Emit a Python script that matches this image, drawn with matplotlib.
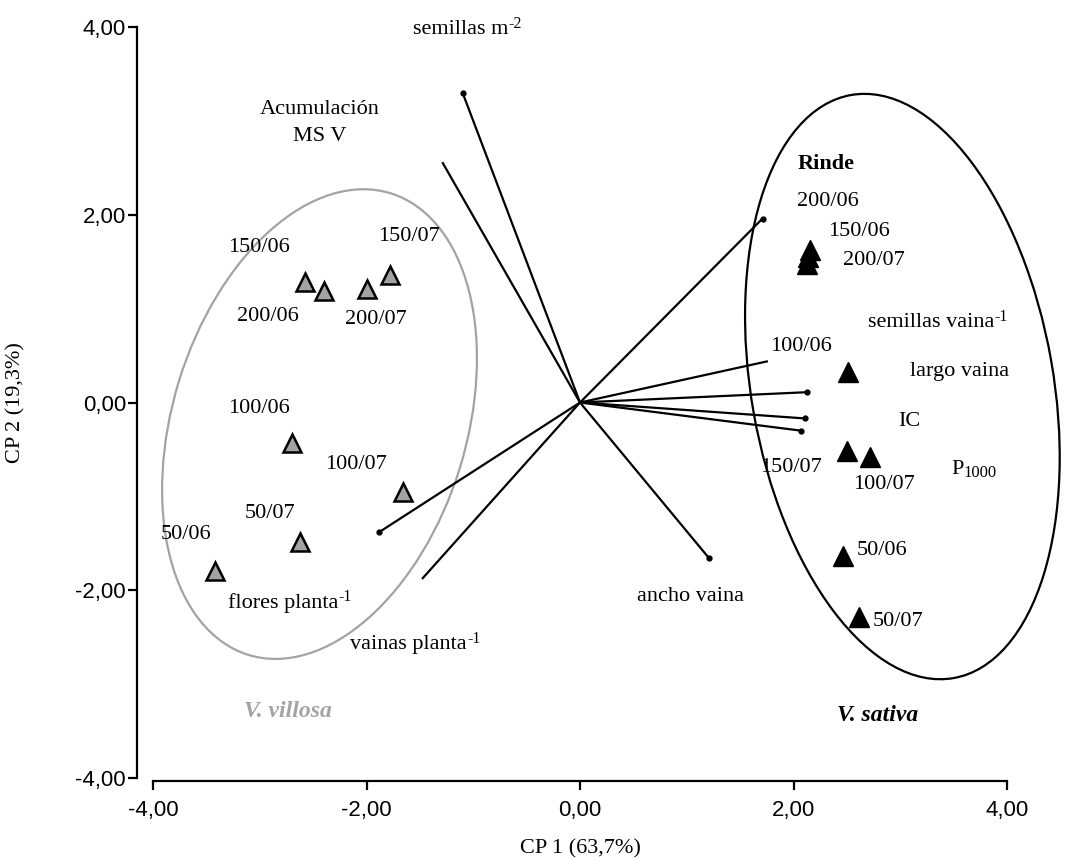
import matplotlib
matplotlib.use("Agg")
import matplotlib.pyplot as plt
import matplotlib.patches as mpatches
import matplotlib.transforms as mtransforms

# -----------------------------
# Data: PCA scores and loadings
# -----------------------------
villosa_names = ["150/06", "200/06", "200/07", "150/07", "100/06", "100/07", "50/07", "50/06"]
villosa_cp1 = [-2.58, -2.40, -2.00, -1.78, -2.70, -1.66, -2.62, -3.42]
villosa_cp2 = [1.28, 1.19, 1.21, 1.36, -0.43, -0.95, -1.49, -1.80]

sativa_names = ["200/06", "150/06", "200/07", "100/06", "150/07", "100/07", "50/06", "50/07"]
sativa_cp1 = [2.15, 2.14, 2.13, 2.51, 2.50, 2.72, 2.46, 2.61]
sativa_cp2 = [1.62, 1.55, 1.48, 0.33, -0.52, -0.58, -1.64, -2.28]

# variable name, superscript, subscript
variables = [("semillas m", "-2", None), ("Acumulación\nMS V", None, None),
             ("Rinde", None, None), ("semillas vaina", "-1", None),
             ("largo vaina", None, None), ("IC", None, None), ("P", None, "1000"),
             ("ancho vaina", None, None), ("flores planta", "-1", None),
             ("vainas planta", "-1", None)]
load_cp1 = [-1.10, -1.29, 1.71, 1.76, 2.13, 2.11, 2.07, 1.21, -1.88, -1.48]
load_cp2 = [3.30, 2.56, 1.96, 0.44, 0.11, -0.17, -0.30, -1.66, -1.38, -1.88]
load_dot = [True, False, True, False, True, True, True, True, True, False]

# label anchors (left edge, vertical centre)
villosa_lab = [(-3.30, 1.65), (-3.21, 0.92), (-2.20, 0.88), (-1.89, 1.77),
               (-3.30, -0.06), (-2.39, -0.66), (-3.14, -1.18), (-3.93, -1.41)]
sativa_lab = [(2.03, 2.14), (2.32, 1.82), (2.46, 1.51), (1.78, 0.60),
              (1.69, -0.69), (2.56, -0.87), (2.59, -1.58), (2.74, -2.33)]
var_lab = [(-1.56, 3.97), (-2.44, 2.98), (2.04, 2.54), (2.70, 0.85),
           (3.09, 0.33), (2.98, -0.20), (3.48, -0.71), (0.53, -2.07),
           (-3.30, -2.14), (-2.15, -2.58)]

GRAY = "#a3a3a3"
serif = ["Liberation Serif", "DejaVu Serif"]
sans = ["Liberation Sans", "DejaVu Sans"]

fig = plt.figure(figsize=(10.68, 8.6), dpi=100)
ax = fig.add_axes([153 / 1068, 82 / 860, 854 / 1068, 751 / 860])
ax.set_xlim(-4, 4)
ax.set_ylim(-4, 4)

# loading vectors
for x, y, dot in zip(load_cp1, load_cp2, load_dot):
    ax.plot([0, x], [0, y], color="black", lw=1.6, solid_capstyle="butt", zorder=2)
    if dot:
        ax.plot(x, y, "o", color="black", ms=3.5, zorder=2)

# group ellipses (size in inches, centred in data units)
def group_ellipse(cx, cy, w, h, angle, color):
    tr = fig.dpi_scale_trans + mtransforms.ScaledTranslation(cx, cy, ax.transData)
    e = mpatches.Ellipse((0, 0), w, h, angle=angle, fill=False, ec=color, lw=1.6,
                         transform=tr, zorder=1, clip_on=False)
    ax.add_patch(e)

group_ellipse(-2.44, -0.23, 4.83, 2.94, 72.9, GRAY)
group_ellipse(3.02, 0.17, 5.92, 3.02, 100.0, "black")

# scores
ax.plot(villosa_cp1, villosa_cp2, "^", ms=13, mfc=GRAY, mec="black", mew=1.8,
        ls="none", zorder=3)
ax.plot(sativa_cp1, sativa_cp2, "^", ms=14, mfc="black", mec="black", mew=1,
        ls="none", zorder=3)


def label(x, y, s, sup=None, sub=None, **kw):
    t = ax.text(x, y, s, ha="left", va="center", fontsize=16, family=serif, **kw)
    if sup:
        ax.annotate(sup, xy=(1, 0.6), xycoords=t, ha="left", va="baseline",
                    fontsize=11.5, family=serif)
    if sub:
        ax.annotate(sub, xy=(1, 0.08), xycoords=t, ha="left", va="baseline",
                    fontsize=12, family=serif)
    return t


for name, (x, y) in zip(villosa_names, villosa_lab):
    label(x, y, name)
for name, (x, y) in zip(sativa_names, sativa_lab):
    label(x, y, name)
for (name, sup, sub), (x, y) in zip(variables, var_lab):
    if name == "Rinde":
        label(x, y, name, fontweight="bold")
    elif "\n" in name:
        ax.text(x, y, name, ha="center", va="center", fontsize=16, family=serif,
                multialignment="center", linespacing=1.6)
    else:
        label(x, y, name, sup, sub)

ax.text(-3.15, -3.29, "V. villosa", ha="left", va="center", fontsize=17, family=serif,
        fontweight="bold", fontstyle="italic", color=GRAY)
ax.text(2.41, -3.33, "V. sativa", ha="left", va="center", fontsize=17, family=serif,
        fontweight="bold", fontstyle="italic", color="black")

# axes styling
ax.spines["top"].set_visible(False)
ax.spines["right"].set_visible(False)
ax.spines["left"].set_position(("outward", 11.5))
ax.spines["bottom"].set_position(("outward", 2.5))
for s in ("left", "bottom"):
    ax.spines[s].set_linewidth(1.6)
ax.set_xticks([-4, -2, 0, 2, 4])
ax.set_yticks([-4, -2, 0, 2, 4])
ax.set_xticklabels(["-4,00", "-2,00", "0,00", "2,00", "4,00"])
ax.set_yticklabels(["-4,00", "-2,00", "0,00", "2,00", "4,00"])
ax.tick_params(direction="out", length=6.5, width=1.6, labelsize=16)
ax.tick_params(axis="x", pad=7)
ax.tick_params(axis="y", pad=1.5)
for lab in ax.get_xticklabels() + ax.get_yticklabels():
    lab.set_family(sans)

ax.set_xlabel("CP 1 (63,7%)", fontsize=16, family=serif, labelpad=13)
ax.set_ylabel("CP 2 (19,3%)", fontsize=16, family=serif, labelpad=36)

fig.savefig("out.png", dpi=100)
plt.close(fig)
